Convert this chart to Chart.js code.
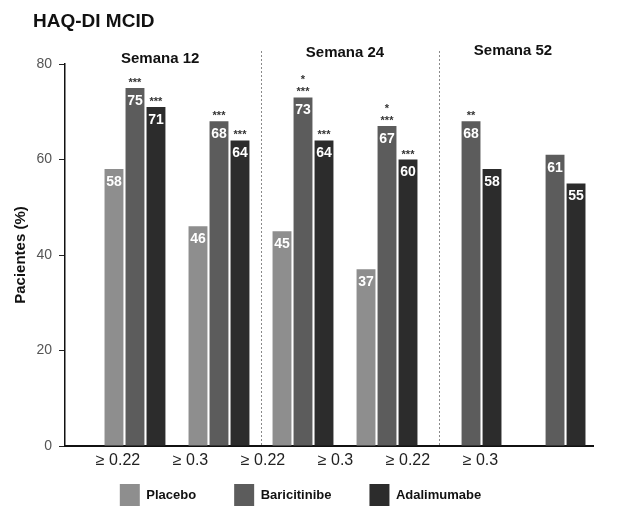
<!DOCTYPE html>
<html>
<head>
<meta charset="utf-8">
<script src="https://cdn.jsdelivr.net/npm/chart.js@4.4.1/dist/chart.umd.min.js"></script>
<style>
  html, body { margin: 0; padding: 0; background: #fff; }
  #wrap { width: 621px; height: 508px; }
</style>
</head>
<body>
<div id="wrap"><canvas id="myChart" width="621" height="508"></canvas></div>
<script>
'use strict';

// category labels under the bars, one per group
const catLabels = ['≥ 0.22', '≥ 0.3', '≥ 0.22', '≥ 0.3', '≥ 0.22', '≥ 0.3'];
const weekLabels = ['Semana 12', 'Semana 24', 'Semana 52'];

// percent of patients reaching HAQ-DI MCID
const placebo = [58, 46, 45, 37, null, null];
const baricitinibe = [75, 68, 73, 67, 68, 61];
const adalimumabe = [71, 64, 64, 60, 58, 55];

// significance marks above bars (bottom line first)
const sigPlacebo = [[], [], [], [], [], []];
const sigBaricitinibe = [['***'], ['***'], ['***', '*'], ['***', '*'], ['**'], []];
const sigAdalimumabe = [['***'], ['***'], ['***'], ['***'], [], []];

const yTicks = [0, 20, 40, 60, 80];

const FONT = "'Liberation Sans', Arial, sans-serif";
const sigMarks = [sigPlacebo, sigBaricitinibe, sigAdalimumabe];

function toPoints(values) {
  return values.map((v, i) => ({ x: i, y: v }));
}

// title, week headers, dotted separators
const decorations = {
  id: 'decorations',
  afterLayout(chart) {
    // the label axis is laid out with no height so the legend sits close,
    // give it room back so its tick labels are not clipped
    const s = chart.scales.xl;
    s.bottom = s.top + 30;
  },
  beforeDatasetsDraw(chart) {
    const ctx = chart.ctx;
    const x = chart.scales.x;
    const area = chart.chartArea;
    ctx.save();
    ctx.strokeStyle = '#8a8a8a';
    ctx.lineWidth = 1;
    ctx.setLineDash([2, 2]);
    [1.5, 3.62].forEach(v => {
      const px = Math.round(x.getPixelForValue(v)) + 0.5;
      ctx.beginPath();
      ctx.moveTo(px, 51);
      ctx.lineTo(px, area.bottom);
      ctx.stroke();
    });
    ctx.restore();
  },
  afterDraw(chart) {
    const ctx = chart.ctx;
    const x = chart.scales.x;
    ctx.save();
    ctx.fillStyle = '#111';
    ctx.textBaseline = 'middle';
    ctx.textAlign = 'left';
    ctx.font = 'bold 19px ' + FONT;
    ctx.fillText('HAQ-DI MCID', 33, 22);

    ctx.textAlign = 'center';
    ctx.font = 'bold 15px ' + FONT;
    const headerPos = [0.3, 2.5, 4.5];
    const headerY = [59, 53, 51];
    weekLabels.forEach((w, k) => {
      ctx.fillText(w, x.getPixelForValue(headerPos[k]), headerY[k]);
    });
    ctx.restore();
  }
};

// values inside the bar tops and stars above
const barLabels = {
  id: 'barLabels',
  afterDatasetsDraw(chart) {
    const ctx = chart.ctx;
    ctx.save();
    ctx.textAlign = 'center';
    ctx.textBaseline = 'middle';
    chart.data.datasets.forEach((ds, d) => {
      const meta = chart.getDatasetMeta(d);
      meta.data.forEach((bar, i) => {
        const v = ds.data[i].y;
        if (v === null) return;
        ctx.fillStyle = '#fff';
        ctx.font = 'bold 14px ' + FONT;
        ctx.fillText(String(v), bar.x, bar.y + 13);
        ctx.fillStyle = '#333';
        ctx.font = 'bold 11px ' + FONT;
        sigMarks[d][i].forEach((s, n) => {
          ctx.fillText(s, bar.x, bar.y - 5 - n * 12);
        });
      });
    });
    ctx.restore();
  }
};

const chartObj = new Chart(document.getElementById('myChart'), {
  type: 'bar',
  data: {
    datasets: [{
      label: 'Placebo',
      data: toPoints(placebo),
      backgroundColor: '#8e8e8e',
      borderWidth: 0
    }, {
      label: 'Baricitinibe',
      data: toPoints(baricitinibe),
      backgroundColor: '#5c5c5c',
      borderWidth: 0
    }, {
      label: 'Adalimumabe',
      data: toPoints(adalimumabe),
      backgroundColor: '#2c2c2c',
      borderWidth: 0
    }]
  },
  options: {
    responsive: false,
    animation: false,
    devicePixelRatio: 1,
    categoryPercentage: 0.75,
    barPercentage: 0.9,
    layout: { padding: { top: 64, left: 8, right: 28, bottom: -8 } },
    scales: {
      x: {
        type: 'linear',
        display: false,
        offset: false,
        min: -0.833,
        max: 5.452,
        afterBuildTicks: axis => { axis.ticks = catLabels.map((c, i) => ({ value: i })); }
      },
      xl: {
        type: 'linear',
        position: 'bottom',
        offset: false,
        min: -0.731,
        max: 6.552,
        grid: { display: false, drawTicks: false },
        border: { display: true, color: '#111', width: 2 },
        afterBuildTicks: axis => { axis.ticks = catLabels.map((c, i) => ({ value: i })); },
        afterFit: axis => { axis.height = 0; },
        ticks: {
          padding: 5,
          color: '#222',
          font: { family: FONT, size: 16 },
          maxRotation: 0,
          autoSkip: false,
          callback: v => catLabels[v]
        }
      },
      y: {
        min: 0,
        max: 80,
        afterBuildTicks: axis => { axis.ticks = yTicks.map(v => ({ value: v })); },
        afterFit: axis => { axis.width = 57; },
        grid: { drawOnChartArea: false, drawTicks: true, tickLength: 6, color: '#222' },
        border: { display: true, color: '#111', width: 1.5 },
        ticks: {
          padding: 7,
          color: '#555',
          font: { family: FONT, size: 14 }
        },
        title: {
          display: true,
          text: 'Pacientes (%)',
          color: '#111',
          font: { family: FONT, size: 15, weight: 'bold' }
        }
      }
    },
    plugins: {
      legend: {
        position: 'bottom',
        labels: {
          boxWidth: 20,
          boxHeight: 22,
          padding: 38,
          color: '#111',
          font: { family: FONT, size: 13, weight: 'bold' }
        }
      },
      tooltip: { enabled: false }
    }
  },
  plugins: [decorations, barLabels]
});
</script>
</body>
</html>
